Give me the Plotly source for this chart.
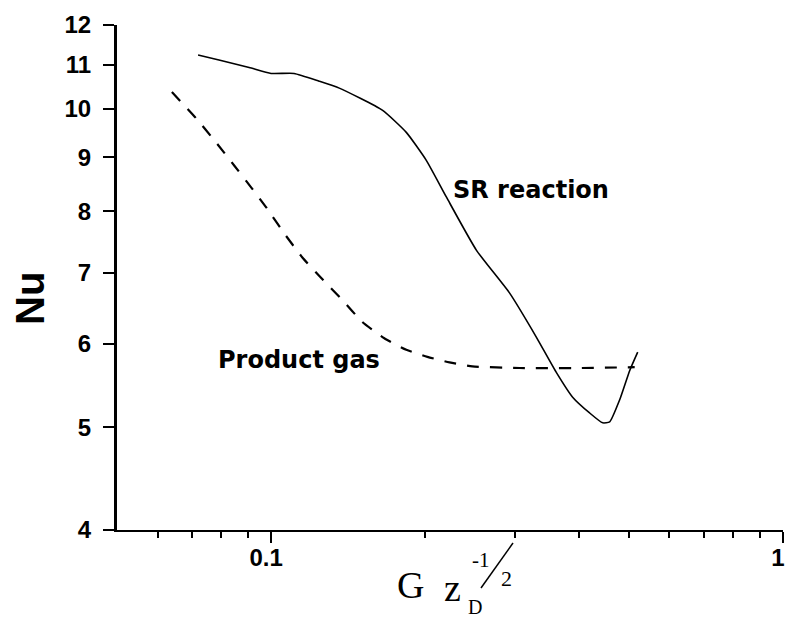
import plotly.graph_objects as go

# ---- data ----
sr_x = [0.0720, 0.0791, 0.0906, 0.100, 0.1109, 0.1241, 0.1359, 0.1649, 0.1837, 0.2010,
        0.2201, 0.2519, 0.2922, 0.3301, 0.3612, 0.3882, 0.4190, 0.4444, 0.4585, 0.4797,
        0.5019, 0.5202]
sr_y = [11.24, 11.12, 10.94, 10.80, 10.80, 10.62, 10.46, 9.97, 9.50, 8.94,
        8.25, 7.35, 6.70, 6.08, 5.63, 5.34, 5.16, 5.05, 5.06, 5.31,
        5.66, 5.89]

gas_x = [0.0640, 0.0713, 0.0780, 0.0847, 0.0914, 0.0982, 0.1060, 0.1150, 0.1253, 0.1377,
         0.1507, 0.1664, 0.1837, 0.2020, 0.2231, 0.2473, 0.3057, 0.4006, 0.5132]
gas_y = [10.37, 9.80, 9.30, 8.84, 8.43, 8.05, 7.63, 7.24, 6.92, 6.60,
         6.29, 6.07, 5.92, 5.83, 5.76, 5.71, 5.69, 5.69, 5.70]

x_tick_vals = [0.1, 1]
x_tick_text = ["0.1", "1"]
x_minor_vals = [0.06, 0.07, 0.08, 0.09, 0.2, 0.3, 0.4, 0.5, 0.6, 0.7, 0.8, 0.9]
y_tick_vals = [4, 5, 6, 7, 8, 9, 10, 11, 12]
y_tick_text = ["4", "5", "6", "7", "8", "9", "10", "11", "12"]

# ---- figure ----
W, H = 787, 619
L, R, T, B = 117, 4, 25, 89
PW, PH = W - L - R, H - T - B


def px(x):
    return (x - L) / PW


def py(y):
    return (H - B - y) / PH


fig = go.Figure()
fig.add_trace(go.Scatter(x=sr_x, y=sr_y, mode="lines", name="SR reaction",
                         line=dict(color="black", width=1.6, shape="spline", smoothing=0.5)))
fig.add_trace(go.Scatter(x=gas_x, y=gas_y, mode="lines", name="Product gas",
                         line=dict(color="black", width=2.2, dash="12px,11px",
                                   shape="spline", smoothing=0.5)))

tickfont = dict(family="Liberation Sans, Arial", size=24, color="black", weight="bold")

fig.update_layout(
    width=W, height=H,
    margin=dict(l=L, r=R, t=T, b=B),
    template="none",
    paper_bgcolor="white", plot_bgcolor="white",
    showlegend=False,
    xaxis=dict(type="log", range=[-1.30103, 0], automargin=False,
               showline=True, linecolor="black", linewidth=2, mirror=False,
               showgrid=False, zeroline=False,
               tickmode="array", tickvals=x_tick_vals, ticktext=x_tick_text,
               ticks="outside", ticklen=11, tickwidth=2, tickcolor="black",
               minor=dict(tickmode="array", tickvals=x_minor_vals, ticks="outside",
                          ticklen=6, tickwidth=2, tickcolor="black", showgrid=False),
               ticklabeloverflow="allow", ticklabelshift=-5, ticklabelstandoff=-6,
               tickfont=tickfont),
    yaxis=dict(type="log", range=[0.60206, 1.07918], automargin=False,
               showline=True, linecolor="black", linewidth=3, mirror=False,
               showgrid=False, zeroline=False,
               tickmode="array", tickvals=y_tick_vals, ticktext=y_tick_text,
               ticks="outside", ticklen=11, tickwidth=2, tickcolor="black",
               ticklabelstandoff=7,
               tickfont=tickfont),
)

bold = dict(family="DejaVu Sans", color="black", weight="bold")
serif = dict(family="Liberation Serif, Times New Roman", color="black")

ann = [
    dict(text="SR reaction", x=px(531), y=py(190), font=dict(size=24, **bold)),
    dict(text="Product gas", x=px(299), y=py(360), font=dict(size=24, **bold)),
    dict(text="Nu", x=px(30), y=py(299), textangle=-90,
         font=dict(size=40, family="Liberation Sans, Arial", color="black", weight="bold")),
    dict(text="G", x=px(410), y=py(585), font=dict(size=38, **serif)),
    dict(text="z", x=px(452), y=py(588), font=dict(size=38, **serif)),
    dict(text="D", x=px(475), y=py(607), font=dict(size=20, **serif)),
    dict(text="-1", x=px(481), y=py(560), font=dict(size=21, **serif)),
    dict(text="2", x=px(506), y=py(578), font=dict(size=22, **serif)),
]
for a in ann:
    a.update(xref="paper", yref="paper", showarrow=False, xanchor="center", yanchor="middle")
fig.update_layout(annotations=ann)

fig.add_shape(type="line", xref="paper", yref="paper",
              x0=px(513), y0=py(543), x1=px(481), y1=py(588),
              line=dict(color="black", width=1.5))

fig.write_html("out.html", config={"displayModeBar": False},
               post_script="document.body.style.margin='0px';document.body.style.overflow='hidden';")
